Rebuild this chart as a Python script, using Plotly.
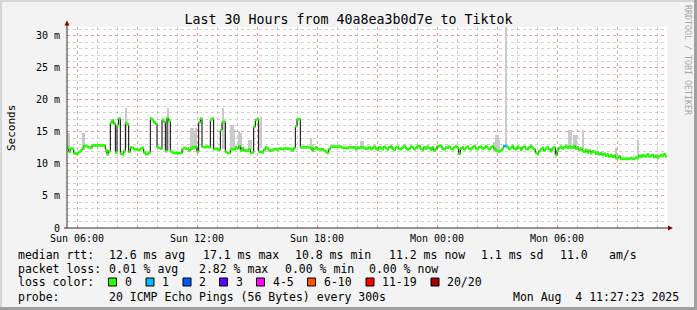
import plotly.graph_objects as go
import pandas as pd

# ---------------- data ----------------
START = pd.Timestamp("2025-08-03 05:30:00")
END = pd.Timestamp("2025-08-04 11:30:00")
STEP = pd.Timedelta(minutes=5)

# median rtt (ms), one row per hour (12 x 5-minute steps), starting Sun 05:30
median_ms_by_hour = [
    [12.5, 11.9, 12.4, 12.4, 11.7, 11.6, 11.7, 11.9, 12.1, 12.4, 12.8, 12.8],
    [12.7, 12.6, 12.5, 12.9, 12.9, 12.9, 12.9, 12.9, 12.9, 12.9, 12.9, 12.2],
    [11.5, 12.0, 16.4, 16.8, 16.3, 11.8, 16.0, 17.1, 11.6, 11.5, 12.0, 16.4],
    [16.2, 11.9, 12.6, 12.5, 12.3, 12.3, 12.2, 12.2, 12.4, 12.5, 11.8, 11.5],
    [11.6, 11.8, 17.1, 16.9, 16.5, 16.3, 12.6, 12.5, 12.4, 16.9, 16.6, 12.0],
    [17.2, 16.7, 12.0, 11.8, 11.7, 11.7, 11.7, 11.7, 11.7, 12.3, 12.5, 12.4],
    [12.4, 12.1, 12.4, 12.6, 12.6, 12.7, 11.9, 16.5, 17.1, 12.7, 12.6, 12.7],
    [12.7, 12.6, 16.9, 17.1, 12.3, 12.4, 12.3, 12.2, 15.3, 16.5, 16.6, 11.9],
    [11.7, 11.7, 12.3, 12.3, 12.3, 12.6, 12.4, 12.8, 12.1, 12.5, 12.1, 12.1],
    [12.1, 12.3, 11.7, 11.8, 15.8, 16.9, 17.0, 11.9, 11.9, 11.8, 12.2, 12.6],
    [12.4, 12.1, 12.1, 12.2, 12.3, 12.3, 12.2, 12.4, 12.4, 12.3, 12.4, 12.4],
    [12.4, 12.4, 12.3, 12.1, 12.5, 15.9, 17.0, 17.0, 12.6, 12.6, 12.6, 12.6],
    [12.6, 12.6, 12.5, 12.1, 12.4, 12.6, 12.3, 12.3, 12.3, 12.3, 12.1, 11.9],
    [11.7, 12.3, 12.7, 12.7, 12.7, 12.7, 12.7, 12.7, 12.7, 12.5, 12.5, 12.5],
    [12.5, 12.6, 12.6, 12.6, 12.6, 12.3, 12.6, 12.5, 12.6, 12.6, 12.5, 12.4],
    [12.4, 12.6, 12.3, 12.5, 12.7, 12.4, 12.2, 12.6, 12.5, 12.3, 12.7, 12.5],
    [12.3, 12.6, 12.8, 12.4, 12.2, 12.5, 12.7, 12.4, 12.3, 12.6, 12.8, 12.5],
    [12.2, 12.4, 12.7, 12.6, 12.3, 12.5, 12.8, 12.8, 12.4, 12.2, 12.6, 12.4],
    [12.7, 12.5, 12.2, 12.6, 12.1, 12.3, 12.8, 12.8, 12.8, 12.4, 12.3, 12.6],
    [12.5, 12.7, 12.4, 12.3, 12.6, 12.8, 12.5, 11.6, 12.4, 12.6, 12.3, 12.5],
    [12.7, 12.4, 12.3, 12.6, 12.8, 12.5, 12.3, 12.6, 12.7, 12.4, 12.5, 12.8],
    [12.5, 12.3, 12.6, 12.8, 12.4, 12.2, 12.0, 12.0, 12.1, 12.4, 12.8, 12.8],
    [12.6, 12.3, 12.5, 12.8, 12.4, 12.3, 12.7, 12.5, 12.2, 12.6, 12.7, 12.4],
    [12.3, 12.6, 12.8, 12.5, 12.3, 11.7, 11.6, 12.0, 12.3, 12.5, 12.1, 12.4],
    [12.6, 12.3, 12.0, 12.4, 12.6, 11.4, 12.1, 12.5, 12.7, 12.4, 12.6, 12.8],
    [12.5, 12.7, 12.5, 12.6, 12.8, 12.4, 12.6, 12.2, 12.4, 12.0, 11.9, 12.2],
    [11.8, 12.1, 11.7, 12.0, 11.9, 11.6, 11.8, 11.5, 11.7, 11.4, 11.6, 11.3],
    [11.5, 11.2, 11.4, 11.1, 11.3, 10.9, 11.0, 11.2, 10.8, 10.8, 10.8, 10.8],
    [10.8, 10.8, 10.9, 10.8, 10.8, 11.0, 10.9, 11.3, 11.1, 11.4, 11.3, 11.2],
    [11.5, 11.2, 11.3, 11.4, 11.1, 11.3, 11.0, 11.2, 11.4, 11.3, 11.5, 11.2],
]
median_ms = [v for row in median_ms_by_hour for v in row]

# steps with lost pings (out of 20)
loss_step = [262, 263]
loss_pings = [1, 1]

# smoke (spread of the 20 pings) where visible: step index, low, high (ms)
smoke_step = [0, 1, 9, 10, 35, 60, 74, 75, 76, 77, 93, 94, 98, 99, 100, 103, 104,
              109, 110, 116, 146, 147, 176, 177, 256, 257, 258, 259, 263,
              301, 302, 304, 305, 309, 329, 342]
smoke_lo_ms = [12.4, 12.4, 12.2, 12.2, 12.5, 12.0, 12.2, 12.2, 12.2, 12.2, 12.3, 12.3,
               12.2, 12.2, 12.2, 12.3, 12.3, 12.2, 12.2, 12.5, 12.2, 12.3, 12.5, 12.5,
               11.8, 11.8, 11.7, 12.0, 12.8, 12.3, 12.3, 12.4, 12.4, 12.3, 10.9, 11.0]
smoke_hi_ms = [14.8, 14.8, 14.8, 14.8, 18.7, 18.7, 15.6, 15.6, 15.0, 15.6, 18.7, 16.5,
               16.1, 16.1, 15.5, 15.2, 14.8, 13.8, 13.8, 17.4, 14.0, 13.2, 13.6, 13.6,
               13.5, 14.5, 14.5, 13.8, 31.4, 15.3, 15.3, 14.5, 14.5, 15.3, 12.5, 13.75]

y_ticks = [0, 5, 10, 15, 20, 25, 30]
y_ticktext = ["0", "5 m", "10 m", "15 m", "20 m", "25 m", "30 m"]
x_ticks = ["2025-08-03 06:00", "2025-08-03 09:00", "2025-08-03 12:00", "2025-08-03 15:00",
           "2025-08-03 18:00", "2025-08-03 21:00", "2025-08-04 00:00", "2025-08-04 03:00",
           "2025-08-04 06:00", "2025-08-04 09:00"]
x_ticktext = ["Sun 06:00", "", "Sun 12:00", "", "Sun 18:00", "", "Mon 00:00", "", "Mon 06:00", ""]

loss_labels = ["0", "1", "2", "3", "4-5", "6-10", "11-19", "20/20"]
loss_colors = ["#26ff00", "#00b8ff", "#0059ff", "#5e00ff", "#ff00ff", "#ff5500", "#ff0000", "#a10000"]

title = "Last 30 Hours from 40a8ea3b0d7e to Tiktok"
legend_rows = [
    [("median rtt:", 16), ("12.6 ms avg", 107), ("17.1 ms max", 201), ("10.8 ms min", 293),
     ("11.2 ms now", 387), ("1.1 ms sd", 479), ("11.0", 558), ("am/s", 607)],
    [("packet loss:", 16), ("0.01 % avg", 107), ("2.82 % max", 197), ("0.00 % min", 283),
     ("0.00 % now", 367)],
    [("loss color:", 16)],
    [("probe:", 16), ("20 ICMP Echo Pings (56 Bytes) every 300s", 107)],
]
date_text = "Mon Aug  4 11:27:23 2025"

# ---------------- helpers ----------------
PL, PR, PT, PB = 67, 667, 27, 228   # plot area in pixels
W, H = 697, 310


def px(x):
    return (x - PL) / (PR - PL)


def py(y):
    return (PB - y) / (PB - PT)


def loss_color(n):
    if n <= 3:
        return loss_colors[n]
    if n <= 5:
        return loss_colors[4]
    if n <= 10:
        return loss_colors[5]
    if n <= 19:
        return loss_colors[6]
    return loss_colors[7]


n = len(median_ms)
step_start = [START + i * STEP for i in range(n)]
step_mid = [t + STEP / 2 for t in step_start]
loss_per_step = [0] * n
for i, c in zip(loss_step, loss_pings):
    loss_per_step[i] = c
seg_colors = [loss_color(c) for c in loss_per_step]

fig = go.Figure()

# smoke
fig.add_trace(go.Bar(
    x=[step_mid[i] for i in smoke_step],
    base=smoke_lo_ms,
    y=[h - l for h, l in zip(smoke_hi_ms, smoke_lo_ms)],
    width=STEP.total_seconds() * 1000,
    marker=dict(color="#cacaca", line=dict(width=0)),
    hoverinfo="skip",
))

# median step line (black)
fig.add_trace(go.Scatter(
    x=step_start + [START + n * STEP],
    y=median_ms + [median_ms[-1]],
    mode="lines",
    line=dict(color="#000000", width=1, shape="hv"),
    hoverinfo="skip",
))

# loss-coloured median segments
fig.add_trace(go.Scatter(
    x=step_mid,
    y=median_ms,
    mode="markers",
    marker=dict(symbol="line-ew", size=1.7,
                line=dict(color=seg_colors, width=2.6)),
    hoverinfo="skip",
))

MAJ = "rgba(255,110,110,0.55)"
MIN = "rgba(150,150,150,0.45)"
MONO = "DejaVu Sans Mono"

fig.update_xaxes(
    type="date", range=[START, END],
    tickmode="array", tickvals=x_ticks, ticktext=x_ticktext,
    showgrid=True, gridcolor=MAJ, griddash="dot", gridwidth=1,
    zeroline=False, showline=False, ticks="",
    ticklabelstandoff=3,
    tickfont=dict(family=MONO, size=10, color="#000"),
    minor=dict(dtick=3600000, tick0="2025-08-03 06:00", showgrid=True,
               gridcolor=MIN, griddash="dot", gridwidth=1),
    fixedrange=True,
)
fig.update_yaxes(
    range=[0, 31.4],
    tickmode="array", tickvals=y_ticks, ticktext=y_ticktext,
    showgrid=True, gridcolor=MAJ, griddash="dot", gridwidth=1,
    zeroline=False, showline=False, ticks="",
    ticklabelstandoff=6,
    tickfont=dict(family=MONO, size=10, color="#000"),
    minor=dict(dtick=1, showgrid=True, gridcolor=MIN, griddash="dot", gridwidth=1),
    fixedrange=True,
)

shapes = []
# axis lines
shapes.append(dict(type="line", xref="paper", yref="paper", x0=px(67), x1=px(67),
                   y0=py(228), y1=py(22), line=dict(color="#303030", width=1)))
shapes.append(dict(type="line", xref="paper", yref="paper", x0=px(64), x1=px(670),
                   y0=py(228), y1=py(228), line=dict(color="#303030", width=1)))
# arrows
shapes.append(dict(type="path", xref="paper", yref="paper",
                   path=f"M {px(64.5)} {py(25.5)} L {px(69.5)} {py(25.5)} L {px(67)} {py(20.5)} Z",
                   fillcolor="#8b0000", line=dict(width=0)))
shapes.append(dict(type="path", xref="paper", yref="paper",
                   path=f"M {px(668)} {py(225.5)} L {px(668)} {py(230.5)} L {px(673)} {py(228)} Z",
                   fillcolor="#8b0000", line=dict(width=0)))
# 3D frame of the image
shapes.append(dict(type="rect", xref="paper", yref="paper", x0=px(0), x1=px(W), y0=py(0), y1=py(2),
                   fillcolor="#d6d6d6", line=dict(width=0)))
shapes.append(dict(type="rect", xref="paper", yref="paper", x0=px(0), x1=px(2), y0=py(0), y1=py(H),
                   fillcolor="#d6d6d6", line=dict(width=0)))
shapes.append(dict(type="rect", xref="paper", yref="paper", x0=px(0), x1=px(W), y0=py(H - 3), y1=py(H),
                   fillcolor="#a0a0a0", line=dict(width=0)))
shapes.append(dict(type="rect", xref="paper", yref="paper", x0=px(W - 3), x1=px(W), y0=py(0), y1=py(H),
                   fillcolor="#a0a0a0", line=dict(width=0)))

annotations = []
row_y = [254.5, 268.5, 282, 296.5]
for row, yy in zip(legend_rows, row_y):
    for txt, xx in row:
        annotations.append(dict(text=txt, x=px(xx), y=py(yy), xref="paper", yref="paper",
                                xanchor="left", yanchor="middle", showarrow=False,
                                font=dict(family=MONO, size=11.5, color="#000")))
annotations.append(dict(text=date_text, x=px(681), y=py(row_y[3]), xref="paper", yref="paper",
                        xanchor="right", yanchor="middle", showarrow=False,
                        font=dict(family=MONO, size=11.5, color="#000")))

# loss colour boxes
box_x = [108.5, 146, 183, 219.5, 256.5, 307.5, 366, 431]
for lbl, col, bx in zip(loss_labels, loss_colors, box_x):
    shapes.append(dict(type="rect", xref="paper", yref="paper",
                       x0=px(bx), x1=px(bx + 8), y0=py(286), y1=py(278),
                       fillcolor=col, line=dict(color="#000", width=1)))
    annotations.append(dict(text=lbl, x=px(bx + 14), y=py(row_y[2]), xref="paper", yref="paper",
                            xanchor="left", yanchor="middle", showarrow=False,
                            font=dict(family=MONO, size=11.5, color="#000")))

annotations.append(dict(text="Seconds", x=px(11), y=py(128), xref="paper", yref="paper",
                        xanchor="center", yanchor="middle", textangle=-90, showarrow=False,
                        font=dict(family=MONO, size=11, color="#000")))
annotations.append(dict(text="RRDTOOL / TOBI OETIKER", x=px(688), y=py(60), xref="paper", yref="paper",
                        xanchor="center", yanchor="middle", textangle=90, showarrow=False,
                        font=dict(family=MONO, size=8.3, color="#a8a8a8")))

fig.update_layout(
    width=W, height=H,
    margin=dict(l=PL, r=W - PR, t=PT, b=H - PB, pad=0),
    paper_bgcolor="#f3f3f3", plot_bgcolor="#ffffff",
    showlegend=False, bargap=0, barmode="overlay",
    title=dict(text=title, x=0.5, xref="container", xanchor="center",
               y=1 - 19 / H, yref="container", yanchor="middle",
               font=dict(family=MONO, size=13.3, color="#000")),
    shapes=shapes, annotations=annotations,
    font=dict(family=MONO),
)

fig.write_html("out.html", config={"displayModeBar": False})
